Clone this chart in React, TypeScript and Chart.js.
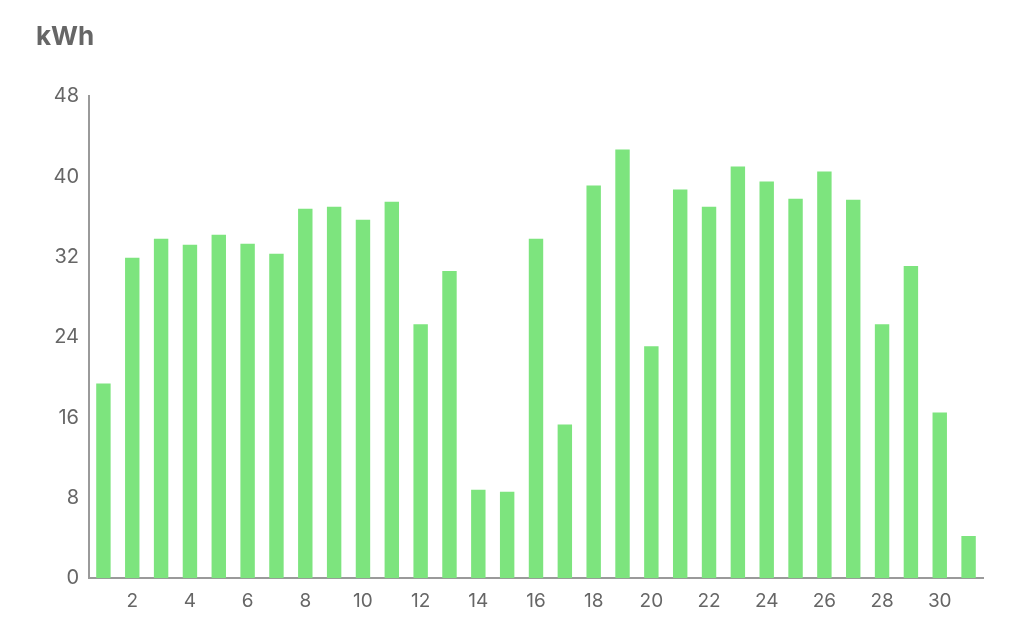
import React, { useEffect, useRef } from "react";
import { Chart, registerables } from "chart.js";

Chart.register(...registerables);

const days: string[] = Array.from({ length: 31 }, (_, i) => String(i + 1));
const energyKWh: number[] = [
  19.4, 31.9, 33.8, 33.2, 34.2, 33.3, 32.3, 36.8, 37.0, 35.7, 37.5,
  25.3, 30.6, 8.8, 8.6, 33.8, 15.3, 39.1, 42.7, 23.1, 38.7, 37.0,
  41.0, 39.5, 37.8, 40.5, 37.7, 25.3, 31.1, 16.5, 4.2,
];
const yTicks: number[] = [0, 8, 16, 24, 32, 40, 48];
const titleText = "kWh";
const barColor = "#7de47e";
const textColor = "#666666";
const axisColor = "#9a9a9a";

export default function App() {
  const ref = useRef<HTMLCanvasElement | null>(null);
  useEffect(() => {
    document.body.style.margin = "0";
    const ctx = ref.current!;
    const chart = new Chart(ctx, {
      type: "bar",
      data: {
        labels: days,
        datasets: [
          {
            data: energyKWh,
            backgroundColor: barColor,
            borderWidth: 0,
            categoryPercentage: 1,
            barPercentage: 0.5,
          },
        ],
      },
      options: {
        animation: false,
        responsive: false,
        maintainAspectRatio: false,
        layout: { padding: { left: 36, right: 41, top: 0, bottom: 0 } },
        plugins: {
          legend: { display: false },
          tooltip: { enabled: false },
          title: {
            display: true,
            text: titleText,
            align: "start",
            color: textColor,
            font: { family: "Inter, 'Open Sans', sans-serif", size: 26, weight: "bold" },
            padding: { top: 22, bottom: 43 },
          },
        },
        scales: {
          x: {
            grid: { display: false, drawTicks: false },
            border: { display: true, color: axisColor, width: 2 },
            ticks: {
              autoSkip: false,
              maxRotation: 0,
              minRotation: 0,
              color: textColor,
              padding: 12,
              font: { family: "Inter, 'Open Sans', sans-serif", size: 19 },
              callback: (_v: any, i: number) => (i % 2 === 1 ? days[i] : ""),
            },
          },
          y: {
            min: 0,
            max: 48,
            afterBuildTicks: (scale: any) => {
              scale.ticks = yTicks.map((v) => ({ value: v }));
            },
            afterFit: (scale: any) => {
              scale.width = 53;
            },
            grid: { display: false, drawTicks: false },
            border: { display: true, color: axisColor, width: 2 },
            ticks: {
              color: textColor,
              padding: 10,
              font: { family: "Inter, 'Open Sans', sans-serif", size: 20 },
            },
          },
        },
      },
    });
    return () => chart.destroy();
  }, []);
  return (
    <div style={{ width: 1024, height: 625 }}>
      <canvas ref={ref} width={1024} height={625} style={{ display: "block" }} />
    </div>
  );
}
